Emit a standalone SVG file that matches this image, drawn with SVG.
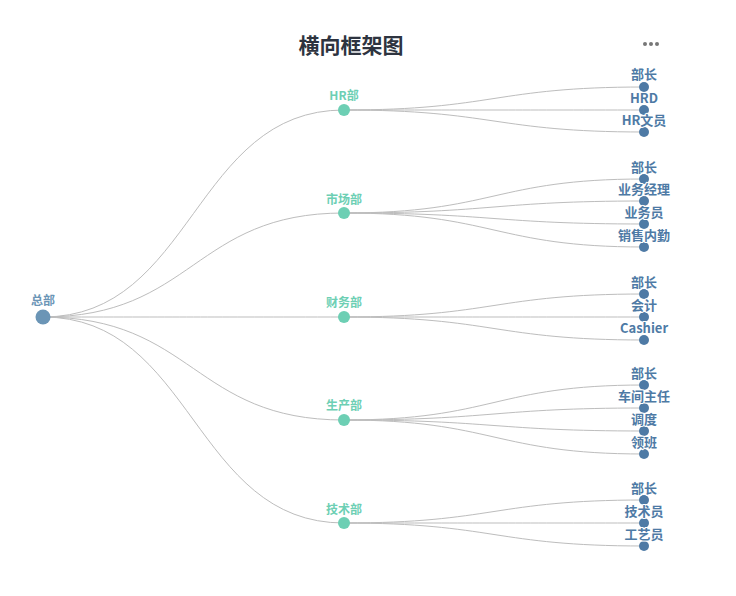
<svg xmlns="http://www.w3.org/2000/svg" width="736" height="596" viewBox="0 0 736 596">
<style>
text{font-family:"Noto Sans CJK SC","Liberation Sans",sans-serif;font-weight:bold;text-anchor:middle;paint-order:stroke;stroke:#fff;stroke-width:2px;stroke-linejoin:round}
.title{font-size:21px;fill:#2e3440;stroke:none}
.l0{font-size:12px;fill:#6b95b6}
.l1{font-size:12px;fill:#6dcfb4}
.l2{font-size:13px;fill:#4e7aa5}
.c0{fill:#6b95b6}
.c1{fill:#6dcfb4}
.c2{fill:#4e7aa5}
.edge{fill:none;stroke:#bdbdbd;stroke-width:1}
</style>
<rect width="736" height="596" fill="#fff"/>
<text class="title" x="351" y="53">横向框架图</text>
<g id="menu" fill="#777"><circle cx="645" cy="44" r="2"/><circle cx="651" cy="44" r="2"/><circle cx="657" cy="44" r="2"/></g>
<g id="connectors">
<path class="edge" d="M43 317C193.5 317 193.5 110 344 110"/>
<path class="edge" d="M43 317C193.5 317 193.5 213 344 213"/>
<path class="edge" d="M43 317C193.5 317 193.5 317 344 317"/>
<path class="edge" d="M43 317C193.5 317 193.5 420 344 420"/>
<path class="edge" d="M43 317C193.5 317 193.5 523 344 523"/>
<path class="edge" d="M344 110C494 110 494 87 644 87"/>
<path class="edge" d="M344 110C494 110 494 110 644 110"/>
<path class="edge" d="M344 110C494 110 494 132 644 132"/>
<path class="edge" d="M344 213C494 213 494 179 644 179"/>
<path class="edge" d="M344 213C494 213 494 201 644 201"/>
<path class="edge" d="M344 213C494 213 494 224 644 224"/>
<path class="edge" d="M344 213C494 213 494 247 644 247"/>
<path class="edge" d="M344 317C494 317 494 294 644 294"/>
<path class="edge" d="M344 317C494 317 494 317 644 317"/>
<path class="edge" d="M344 317C494 317 494 340 644 340"/>
<path class="edge" d="M344 420C494 420 494 385 644 385"/>
<path class="edge" d="M344 420C494 420 494 408 644 408"/>
<path class="edge" d="M344 420C494 420 494 431 644 431"/>
<path class="edge" d="M344 420C494 420 494 454 644 454"/>
<path class="edge" d="M344 523C494 523 494 500 644 500"/>
<path class="edge" d="M344 523C494 523 494 523 644 523"/>
<path class="edge" d="M344 523C494 523 494 546 644 546"/>
</g>
<g id="root"><circle class="c0" cx="43" cy="317" r="7.5"/><text class="l0" x="43" y="305">总部</text></g>
<g id="hr"><circle class="c1" cx="344" cy="110" r="6"/><text class="l1" x="344" y="100">HR部</text></g>
<g id="market"><circle class="c1" cx="344" cy="213" r="6"/><text class="l1" x="344" y="204">市场部</text></g>
<g id="finance"><circle class="c1" cx="344" cy="317" r="6"/><text class="l1" x="344" y="307">财务部</text></g>
<g id="production"><circle class="c1" cx="344" cy="420" r="6"/><text class="l1" x="344" y="410">生产部</text></g>
<g id="tech"><circle class="c1" cx="344" cy="523" r="6"/><text class="l1" x="344" y="514">技术部</text></g>
<g id="hr-head"><circle class="c2" cx="644" cy="87" r="5"/><text class="l2" x="644" y="79">部长</text></g>
<g id="hr-hrd"><circle class="c2" cx="644" cy="110" r="5"/><text class="l2" x="644" y="103">HRD</text></g>
<g id="hr-clerk"><circle class="c2" cx="644" cy="132" r="5"/><text class="l2" x="644" y="125">HR文员</text></g>
<g id="mk-head"><circle class="c2" cx="644" cy="179" r="5"/><text class="l2" x="644" y="172">部长</text></g>
<g id="mk-mgr"><circle class="c2" cx="644" cy="201" r="5"/><text class="l2" x="644" y="194">业务经理</text></g>
<g id="mk-staff"><circle class="c2" cx="644" cy="224" r="5"/><text class="l2" x="644" y="217">业务员</text></g>
<g id="mk-sales"><circle class="c2" cx="644" cy="247" r="5"/><text class="l2" x="644" y="240">销售内勤</text></g>
<g id="fi-head"><circle class="c2" cx="644" cy="294" r="5"/><text class="l2" x="644" y="287">部长</text></g>
<g id="fi-acct"><circle class="c2" cx="644" cy="317" r="5"/><text class="l2" x="644" y="310">会计</text></g>
<g id="fi-cash"><circle class="c2" cx="644" cy="340" r="5"/><text class="l2" x="644" y="333">Cashier</text></g>
<g id="pr-head"><circle class="c2" cx="644" cy="385" r="5"/><text class="l2" x="644" y="378">部长</text></g>
<g id="pr-ws"><circle class="c2" cx="644" cy="408" r="5"/><text class="l2" x="644" y="401">车间主任</text></g>
<g id="pr-disp"><circle class="c2" cx="644" cy="431" r="5"/><text class="l2" x="644" y="424">调度</text></g>
<g id="pr-lead"><circle class="c2" cx="644" cy="454" r="5"/><text class="l2" x="644" y="447">领班</text></g>
<g id="te-head"><circle class="c2" cx="644" cy="500" r="5"/><text class="l2" x="644" y="493">部长</text></g>
<g id="te-tech"><circle class="c2" cx="644" cy="523" r="5"/><text class="l2" x="644" y="516">技术员</text></g>
<g id="te-proc"><circle class="c2" cx="644" cy="546" r="5"/><text class="l2" x="644" y="539">工艺员</text></g>
</svg>
